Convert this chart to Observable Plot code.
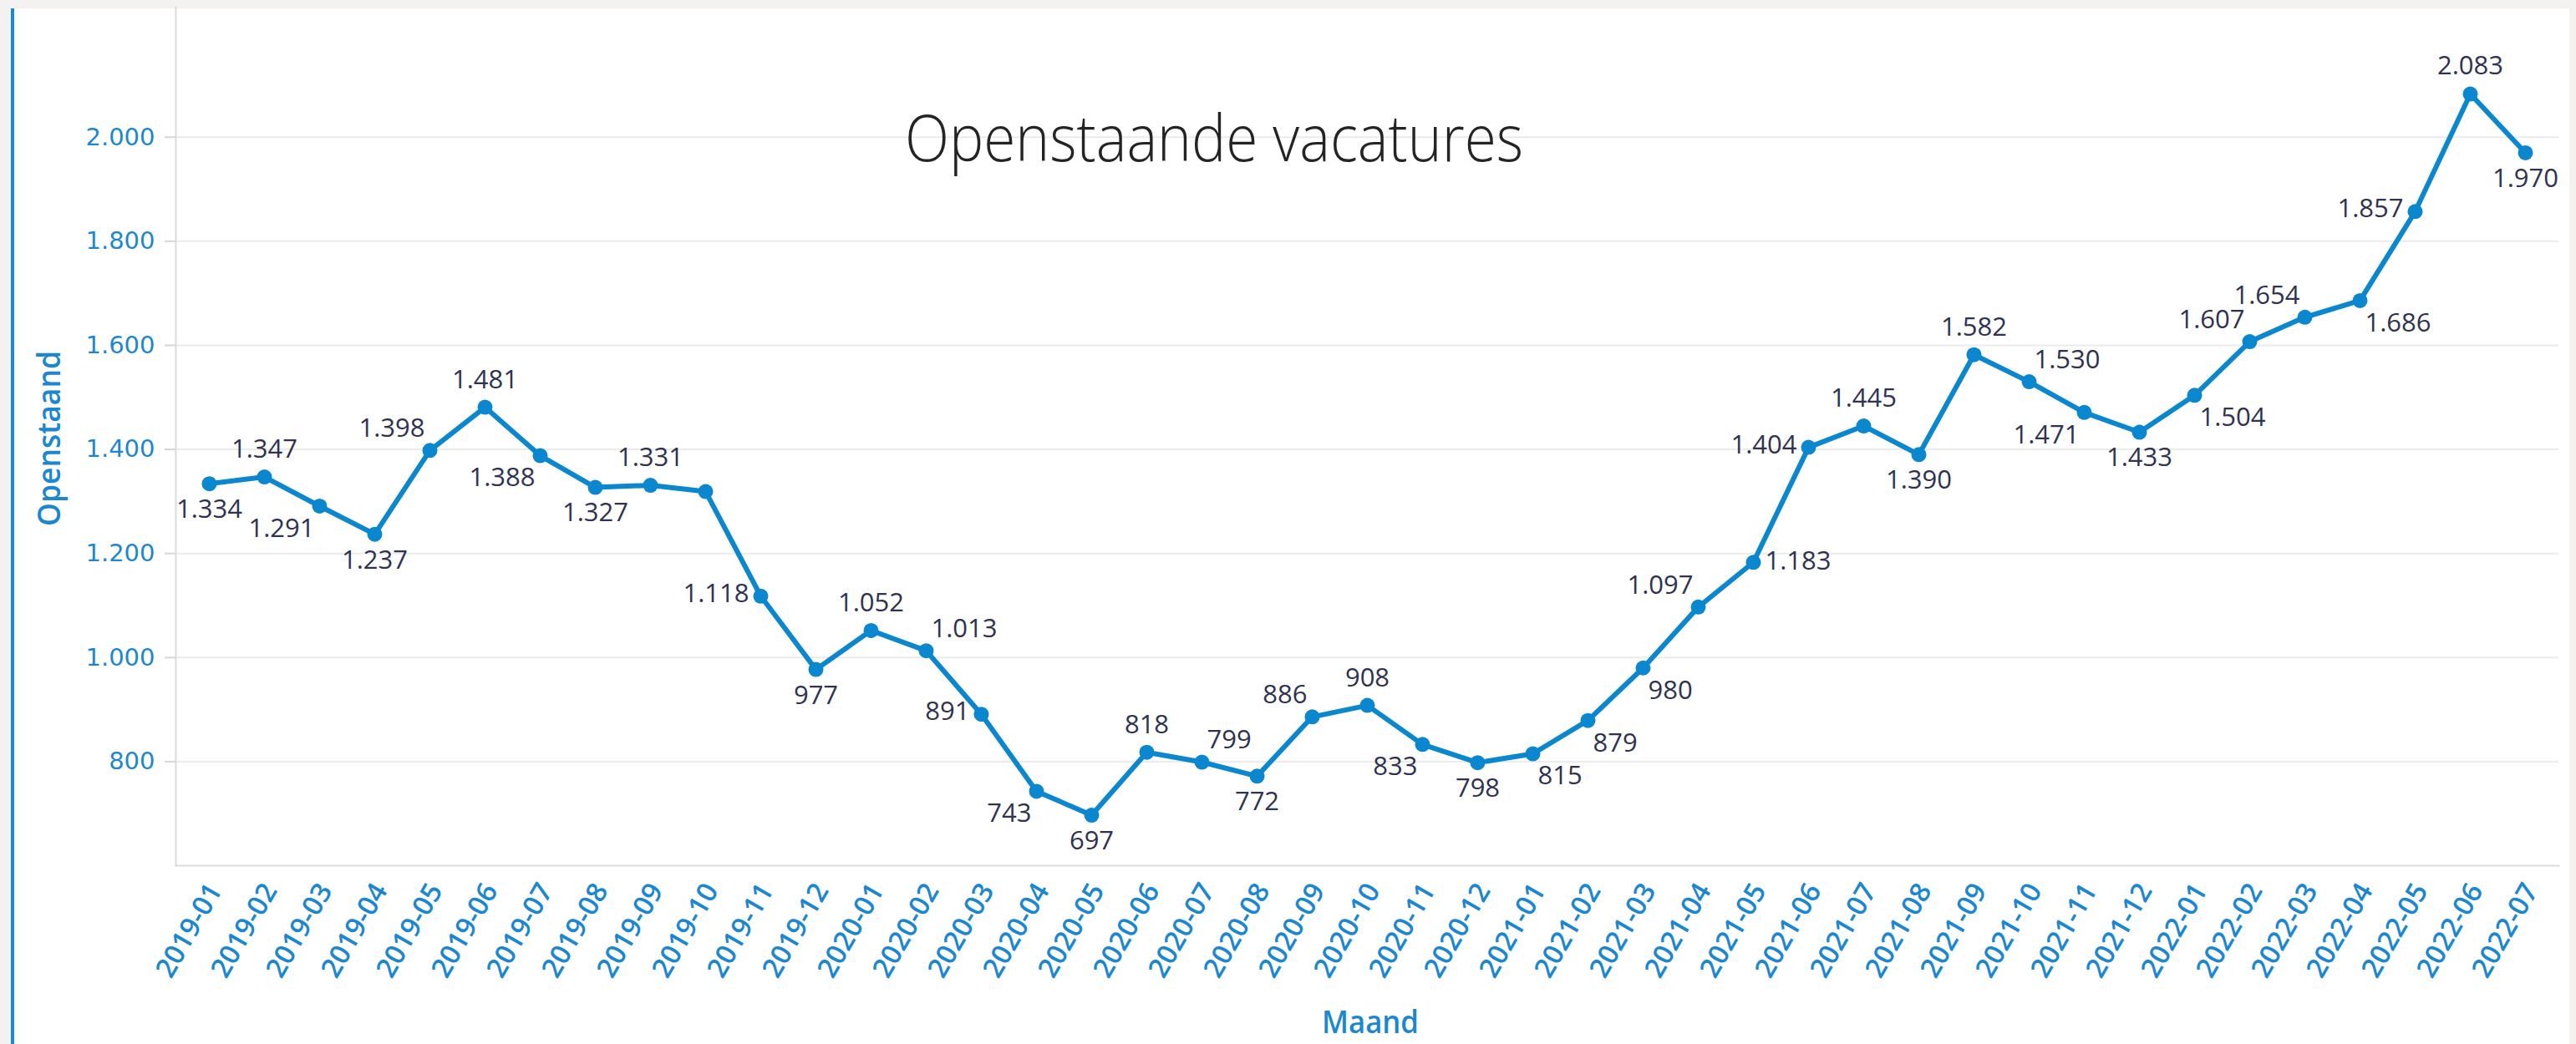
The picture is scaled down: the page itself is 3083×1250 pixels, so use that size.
<!DOCTYPE html>
<html><head><meta charset="utf-8">
<script src="https://cdn.jsdelivr.net/npm/d3@7"></script>
<script src="https://cdn.jsdelivr.net/npm/@observablehq/plot@0.6"></script>
<style>
html,body{margin:0;padding:0;background:#f3f2f1;}
#wrap{position:relative;width:3083px;height:1250px;overflow:hidden;}
#card{position:absolute;left:13px;top:10px;width:3062px;height:1240px;background:#fff;border-left:4px solid #1a8ad4;box-sizing:border-box;}
#chart{position:absolute;left:0;top:0;}
#overlay{position:absolute;left:0;top:0;pointer-events:none;}
</style></head><body>
<div id="wrap"><div id="card"></div><div id="chart"></div>
<svg id="overlay" width="3083" height="1250" xmlns="http://www.w3.org/2000/svg"></svg></div>
<script>
const months = ["2019-01","2019-02","2019-03","2019-04","2019-05","2019-06","2019-07","2019-08","2019-09","2019-10","2019-11","2019-12",
  "2020-01","2020-02","2020-03","2020-04","2020-05","2020-06","2020-07","2020-08","2020-09","2020-10","2020-11","2020-12",
  "2021-01","2021-02","2021-03","2021-04","2021-05","2021-06","2021-07","2021-08","2021-09","2021-10","2021-11","2021-12",
  "2022-01","2022-02","2022-03","2022-04","2022-05","2022-06","2022-07"];
const values = [1334,1347,1291,1237,1398,1481,1388,1327,1331,1319,1118,977,
  1052,1013,891,743,697,818,799,772,886,908,833,798,
  815,879,980,1097,1183,1404,1445,1390,1582,1530,1471,1433,
  1504,1607,1654,1686,1857,2083,1970];
const hiddenLabels = ["2019-10"];
const yTicks = [800,1000,1200,1400,1600,1800,2000];
const chartTitle = "Openstaande vacatures";
const yTitle = "Openstaand";
const xTitle = "Maand";

const fmt = d3.formatLocale({decimal:",", thousands:".", grouping:[3], currency:["€",""]}).format(",d");

// label placement derived from the shape of the series
function placement(i){
  const v = values[i], p = values[i-1], n = values[i+1];
  if (p === undefined) return n > v ? "below" : "above";
  if (n === undefined) return p > v ? "below" : "above";
  if (v >= p && v >= n) return "above";
  if (v <= p && v <= n) return "below";
  const rising = n > p;
  if (Math.abs(n - p) >= 250) return (rising && (v - p) < 120) ? "right" : "left";
  const up = v >= (p + n) / 2;
  if (rising) return up ? "aboveLeft" : "belowRight";
  return up ? "aboveRight" : "belowLeft";
}
const rows = months.map((m,i) => ({month:m, value:values[i], place:placement(i), show:!hiddenLabels.includes(m)}));

const blue = "#1c87d1";
const lineBlue = "#0b87cf";
const labelColor = "#2f3250";
const labelFont = {fontSize:31, fontFamily:"Open Sans, sans-serif", fill:labelColor};
const lab = (place, opts) => Plot.text(rows, {filter:d => d.show && d.place === place, x:"month", y:"value", text:d => fmt(d.value), lineAnchor:"middle", ...labelFont, ...opts});

const plot = Plot.plot({
  width:3083, height:1250,
  marginLeft:210, marginRight:21, marginTop:8, marginBottom:214,
  style:{background:"transparent", overflow:"visible"},
  x:{type:"point", domain:months, padding:0.5, label:null},
  y:{domain:[600,2250], label:null},
  marks:[
    Plot.gridY(yTicks, {stroke:"#ebebeb", strokeOpacity:1, strokeWidth:2}),
    Plot.frame({anchor:"left", stroke:"#dcdcdc", strokeWidth:2}),
    Plot.frame({anchor:"bottom", stroke:"#dcdcdc", strokeWidth:2}),
    Plot.axisY(yTicks, {tickSize:13, tickPadding:12, tickFormat:fmt, fontSize:29, fontFamily:"DejaVu Sans, sans-serif", fill:blue, stroke:"#d6d6d6", strokeWidth:2, label:null}),
    Plot.axisX({tickRotate:-60, tickSize:0, tickPadding:24, dx:7, fontSize:33, fontWeight:600, fontFamily:"Open Sans, sans-serif", fill:blue, label:null}),
    Plot.line(rows, {x:"month", y:"value", stroke:lineBlue, strokeWidth:6}),
    Plot.dot(rows, {x:"month", y:"value", r:9, fill:lineBlue}),
    lab("above", {dy:-33}),
    lab("below", {dy:31}),
    lab("left", {dx:-14, dy:-3, textAnchor:"end"}),
    lab("right", {dx:14, dy:-1, textAnchor:"start"}),
    lab("aboveLeft", {dx:-6, dy:-26, textAnchor:"end"}),
    lab("aboveRight", {dx:6, dy:-26, textAnchor:"start"}),
    lab("belowLeft", {dx:-6, dy:27, textAnchor:"end"}),
    lab("belowRight", {dx:6, dy:27, textAnchor:"start"})
  ]
});
document.getElementById("chart").appendChild(plot);

const ov = d3.select("#overlay");
ov.append("text").attr("x",1453).attr("y",193).attr("text-anchor","middle")
  .attr("font-family","Open Sans, sans-serif").attr("font-weight",300).attr("font-size",77)
  .attr("fill","#252423").attr("textLength",740).attr("lengthAdjust","spacingAndGlyphs").text(chartTitle);
ov.append("text").attr("transform","translate(72,525) rotate(-90)").attr("text-anchor","middle")
  .attr("font-family","Open Sans, sans-serif").attr("font-weight",600).attr("font-size",37)
  .attr("fill",blue).attr("textLength",210).attr("lengthAdjust","spacingAndGlyphs").text(yTitle);
ov.append("text").attr("x",1640).attr("y",1237).attr("text-anchor","middle")
  .attr("font-family","Open Sans, sans-serif").attr("font-weight",600).attr("font-size",37)
  .attr("fill",blue).attr("textLength",116).attr("lengthAdjust","spacingAndGlyphs").text(xTitle);
</script>
</body></html>
